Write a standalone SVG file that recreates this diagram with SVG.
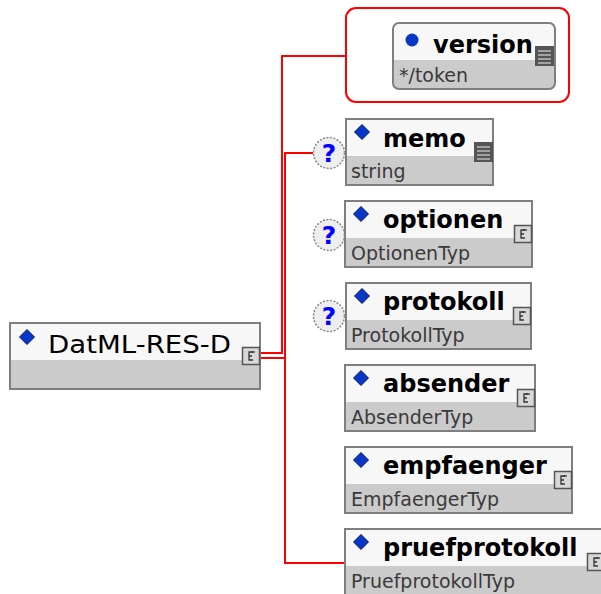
<svg xmlns="http://www.w3.org/2000/svg" width="601" height="594" viewBox="0 0 601 594">
<style>
.hdr{fill:#f7f7f7}
.sub{fill:#cbcbcb}
.frame{fill:none;stroke:#7f7f7f;stroke-width:2}
.name{font-family:"DejaVu Sans",sans-serif;font-weight:bold;font-size:24px;fill:#000}
.type{font-family:"DejaVu Sans",sans-serif;font-size:19px;fill:#3a3a3a}
.conn{stroke:#ff0000;stroke-width:2;fill:none}
.q{fill:#eeeeee;stroke:#8a8a8a;stroke-width:1.5;stroke-dasharray:2 1.5}
.qt{font-family:"DejaVu Sans",sans-serif;font-weight:bold;font-size:25px;fill:#0000ff;text-anchor:middle}
</style>
<defs>
<polygon id="dia" points="0,-7.5 7.5,0 0,7.5 -7.5,0" fill="#0836c8" stroke="#0a1a50" stroke-width="1"/>
<g id="cpx">
<rect x="0.5" y="0.5" width="17" height="17" fill="#d8d8d8" stroke="#555" stroke-width="1.5"/>
<path d="M11 5 H7 V13 H11 M7 9 H10 M10 4 V6 M12 4 V6" fill="none" stroke="#333" stroke-width="1.3"/>
</g>
<g id="smp">
<rect x="0" y="0" width="19" height="20" fill="#555"/>
<path d="M3 5 H16 M3 9 H16 M3 13 H16 M3 17 H16" stroke="#bbb" stroke-width="1.5"/>
</g>
</defs>

<g id="connectors">
<polyline class="conn" points="260,353 282,353 282,56 346,56"/>
<polyline class="conn" points="260,358 285,358"/>
<polyline class="conn" points="313,153 285,153 285,563 345,563"/>
</g>

<g id="node-main">
<rect class="hdr" x="10" y="323" width="250" height="66"/>
<rect class="sub" x="10" y="360" width="250" height="29"/>
<rect class="frame" x="10" y="323" width="250" height="66"/>
<use href="#dia" x="27" y="337"/>
<text x="48" y="353" font-family="DejaVu Sans, sans-serif" font-size="25" textLength="183" lengthAdjust="spacingAndGlyphs">DatML-RES-D</text>
<use href="#cpx" x="242" y="347"/>
</g>

<g id="node-version">
<rect x="346" y="8" width="223" height="94" rx="10" fill="none" stroke="#ff0000" stroke-width="2"/>
<rect class="hdr" x="393" y="23" width="162" height="66" rx="6"/>
<path class="sub" d="M393 60 H555 V83 Q555 89 549 89 H399 Q393 89 393 83 Z"/>
<rect class="frame" x="393" y="23" width="162" height="66" rx="6"/>
<circle cx="412" cy="40" r="6.5" fill="#0836c8"/>
<text class="name" x="433" y="53">version</text>
<text class="type" x="399" y="82">*/token</text>
<use href="#smp" x="535" y="46"/>
</g>

<g id="node-memo">
<circle class="q" cx="329" cy="153" r="15.5"/>
<text class="qt" x="329" y="162">?</text>
<rect class="hdr" x="346" y="119" width="147" height="66"/>
<rect class="sub" x="346" y="156" width="147" height="29"/>
<rect class="frame" x="346" y="119" width="147" height="66"/>
<use href="#dia" x="362" y="132"/>
<text class="name" x="383" y="147">memo</text>
<text class="type" x="351" y="178">string</text>
<use href="#smp" x="474" y="142"/>
</g>

<g id="node-optionen">
<circle class="q" cx="329" cy="235" r="15.5"/>
<text class="qt" x="329" y="244">?</text>
<rect class="hdr" x="345" y="201" width="187" height="66"/>
<rect class="sub" x="345" y="238" width="187" height="29"/>
<rect class="frame" x="345" y="201" width="187" height="66"/>
<use href="#dia" x="361" y="214"/>
<text class="name" x="383" y="228">optionen</text>
<text class="type" x="351" y="260">OptionenTyp</text>
<use href="#cpx" x="514" y="225"/>
</g>

<g id="node-protokoll">
<circle class="q" cx="329" cy="316" r="15.5"/>
<text class="qt" x="329" y="325">?</text>
<rect class="hdr" x="346" y="283" width="185" height="66"/>
<rect class="sub" x="346" y="320" width="185" height="29"/>
<rect class="frame" x="346" y="283" width="185" height="66"/>
<use href="#dia" x="362" y="296"/>
<text class="name" x="383" y="310">protokoll</text>
<text class="type" x="351" y="342">ProtokollTyp</text>
<use href="#cpx" x="513" y="307"/>
</g>

<g id="node-absender">
<rect class="hdr" x="345" y="365" width="190" height="66"/>
<rect class="sub" x="345" y="402" width="190" height="29"/>
<rect class="frame" x="345" y="365" width="190" height="66"/>
<use href="#dia" x="361" y="378"/>
<text class="name" x="383" y="392">absender</text>
<text class="type" x="351" y="424">AbsenderTyp</text>
<use href="#cpx" x="517" y="389"/>
</g>

<g id="node-empfaenger">
<rect class="hdr" x="345" y="447" width="227" height="66"/>
<rect class="sub" x="345" y="484" width="227" height="29"/>
<rect class="frame" x="345" y="447" width="227" height="66"/>
<use href="#dia" x="361" y="460"/>
<text class="name" x="383" y="474">empfaenger</text>
<text class="type" x="351" y="506">EmpfaengerTyp</text>
<use href="#cpx" x="554" y="471"/>
</g>

<g id="node-pruefprotokoll">
<rect class="hdr" x="345" y="529" width="262" height="66"/>
<rect class="sub" x="345" y="566" width="262" height="29"/>
<rect class="frame" x="345" y="529" width="262" height="66"/>
<use href="#dia" x="361" y="542"/>
<text class="name" x="383" y="556">pruefprotokoll</text>
<text class="type" x="351" y="588">PruefprotokollTyp</text>
<use href="#cpx" x="587" y="553"/>
</g>
</svg>
